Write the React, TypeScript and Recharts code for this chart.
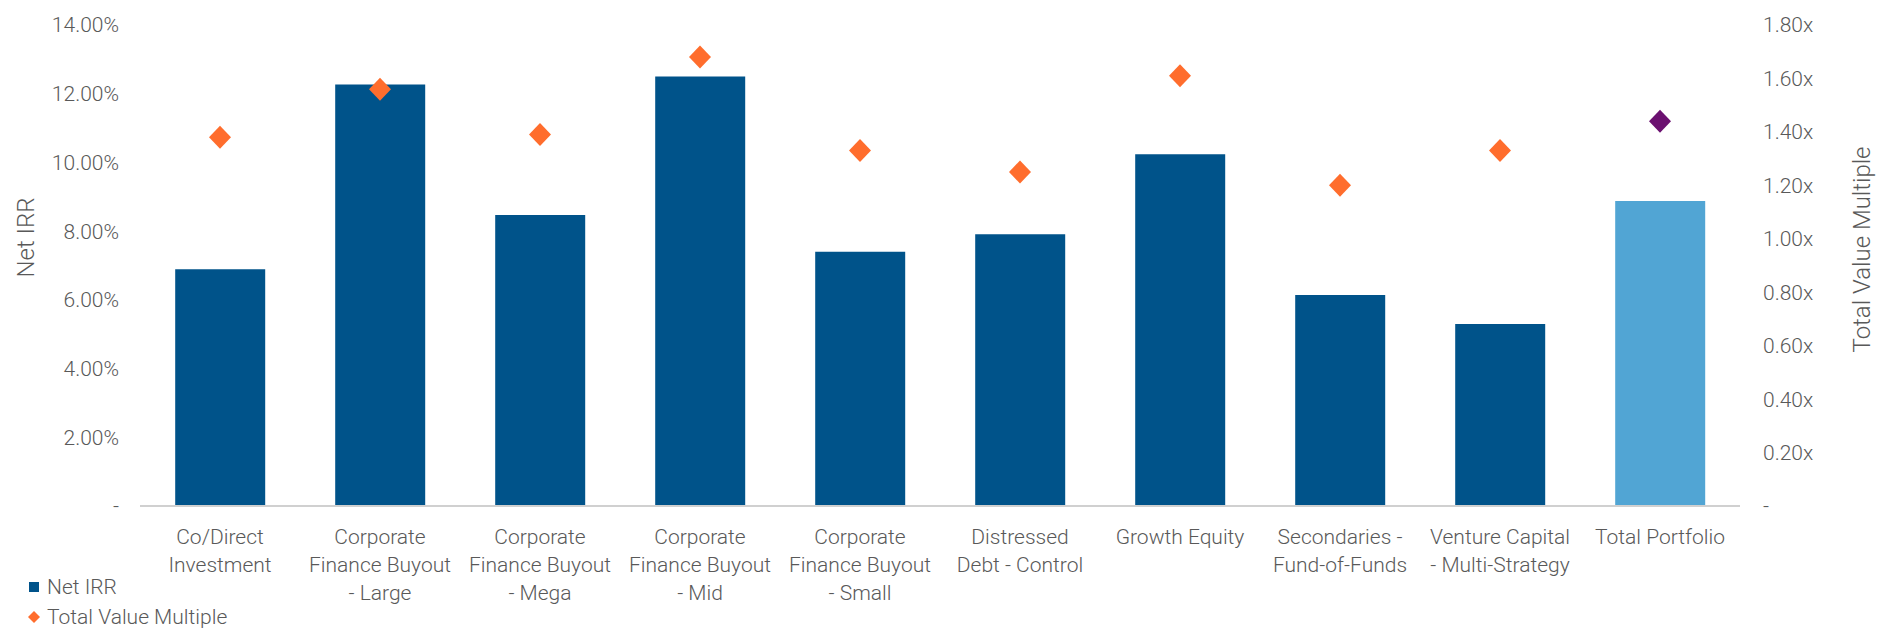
import React from 'react';
import { ComposedChart, Bar, Scatter, XAxis, YAxis, Legend, Cell } from 'recharts';

const categories = [
  'Co/Direct Investment',
  'Corporate Finance Buyout - Large',
  'Corporate Finance Buyout - Mega',
  'Corporate Finance Buyout - Mid',
  'Corporate Finance Buyout - Small',
  'Distressed Debt - Control',
  'Growth Equity',
  'Secondaries - Fund-of-Funds',
  'Venture Capital - Multi-Strategy',
  'Total Portfolio',
];

const tickLines = [
  ['Co/Direct', 'Investment'],
  ['Corporate', 'Finance Buyout', '- Large'],
  ['Corporate', 'Finance Buyout', '- Mega'],
  ['Corporate', 'Finance Buyout', '- Mid'],
  ['Corporate', 'Finance Buyout', '- Small'],
  ['Distressed', 'Debt - Control'],
  ['Growth Equity'],
  ['Secondaries -', 'Fund-of-Funds'],
  ['Venture Capital', '- Multi-Strategy'],
  ['Total Portfolio'],
];

// Net IRR in percent
const netIrr = [6.89, 12.27, 8.47, 12.5, 7.4, 7.91, 10.24, 6.14, 5.3, 8.88];
// Total Value Multiple (x)
const tvm = [1.38, 1.56, 1.39, 1.68, 1.33, 1.25, 1.61, 1.2, 1.33, 1.44];

const irrTicks = [0, 2, 4, 6, 8, 10, 12, 14];
const tvmTicks = [0, 0.2, 0.4, 0.6, 0.8, 1.0, 1.2, 1.4, 1.6, 1.8];

const TOTAL = 'Total Portfolio';
const BAR_COLOR = '#00538A';
const TOTAL_BAR_COLOR = '#51A5D4';
const MARKER_COLOR = '#FF6D2D';
const TOTAL_MARKER_COLOR = '#6B1170';
const TEXT_COLOR = '#595959';
const FONT = 'Roboto, "Noto Sans", sans-serif';

const data = categories.map((name, i) => ({
  name,
  irr: netIrr[i],
  tvm: tvm[i],
}));

const CategoryTick = ({ x, y, index }: any) => {
  const lines = tickLines[index] || [];
  return (
    <text
      x={x}
      y={y}
      textAnchor="middle"
      fill={TEXT_COLOR}
      fontSize={21}
      fontWeight={300}
      fontFamily={FONT}
    >
      {lines.map((line, i) => (
        <tspan key={i} x={x} dy={i === 0 ? 38 : 28}>
          {line}
        </tspan>
      ))}
    </text>
  );
};

// rotated axis title, placed from the axis viewBox
const AxisTitle = ({ viewBox, value, side }: any) => {
  if (!viewBox) return null;
  const x = side === 'left' ? viewBox.x + 26 : viewBox.x + viewBox.width - 17;
  const y = viewBox.y + viewBox.height / 2 + (side === 'left' ? -28 : -16);
  return (
    <text
      x={x}
      y={y}
      transform={`rotate(-90, ${x}, ${y})`}
      textAnchor="middle"
      dominantBaseline="central"
      fill={TEXT_COLOR}
      fontSize={24}
      fontWeight={300}
      fontFamily={FONT}
    >
      {value}
    </text>
  );
};

const Diamond = ({ cx, cy, fill }: any) => {
  if (cx == null || cy == null) return null;
  const w = 11;
  const h = 11.5;
  return (
    <polygon
      points={`${cx},${cy - h} ${cx + w},${cy} ${cx},${cy + h} ${cx - w},${cy}`}
      fill={fill}
    />
  );
};

const LegendContent = () => (
  <div style={{ fontFamily: FONT, fontSize: 21, fontWeight: 300, color: TEXT_COLOR }}>
    <div style={{ display: 'flex', alignItems: 'center', height: 30 }}>
      <svg width={12} height={12} style={{ marginRight: 7 }}>
        <rect x={1} y={1} width={10} height={10} fill={BAR_COLOR} />
      </svg>
      <span>Net IRR</span>
    </div>
    <div style={{ display: 'flex', alignItems: 'center', height: 30 }}>
      <svg width={12} height={12} style={{ marginRight: 7 }}>
        <polygon points="6,0 12,6 6,12 0,6" fill={MARKER_COLOR} />
      </svg>
      <span>Total Value Multiple</span>
    </div>
  </div>
);

const fmtIrr = (v: number) => (v === 0 ? '-' : `${v.toFixed(2)}%`);
const fmtTvm = (v: number) => (v === 0 ? '-' : `${v.toFixed(2)}x`);

const App: React.FC = () => {
  return (
    <div style={{ position: 'absolute', left: 0, top: 0, width: 1879, height: 631, background: '#fff' }}>
      <ComposedChart
        width={1879}
        height={631}
        data={data}
        margin={{ top: 25, right: 0, bottom: 0, left: 0 }}
        barCategoryGap="22%"
      >
        <XAxis
          dataKey="name"
          interval={0}
          height={66}
          tickLine={false}
          tickSize={0}
          tickMargin={0}
          axisLine={{ stroke: '#D0D0D0', strokeWidth: 2 }}
          tick={<CategoryTick />}
        />
        <YAxis
          yAxisId="left"
          orientation="left"
          width={140}
          domain={[0, 14]}
          ticks={irrTicks}
          tickFormatter={fmtIrr}
          axisLine={false}
          tickLine={false}
          tickSize={0}
          tickMargin={21}
          tick={{ fill: TEXT_COLOR, fontSize: 21, fontWeight: 300, fontFamily: FONT }}
          label={<AxisTitle value="Net IRR" side="left" />}
        />
        <YAxis
          yAxisId="right"
          orientation="right"
          width={139}
          domain={[0, 1.8]}
          ticks={tvmTicks}
          tickFormatter={fmtTvm}
          axisLine={false}
          tickLine={false}
          tickSize={0}
          tickMargin={23}
          tick={{ fill: TEXT_COLOR, fontSize: 21, fontWeight: 300, fontFamily: FONT, textAnchor: 'start' }}
          label={<AxisTitle value="Total Value Multiple" side="right" />}
        />
        <Legend
          verticalAlign="bottom"
          align="left"
          layout="horizontal"
          height={59}
          wrapperStyle={{ left: 28, bottom: 0, width: 400, height: 59 }}
          content={<LegendContent />}
        />
        <Bar yAxisId="left" dataKey="irr" name="Net IRR" isAnimationActive={false}>
          {data.map((d, i) => (
            <Cell key={i} fill={d.name === TOTAL ? TOTAL_BAR_COLOR : BAR_COLOR} />
          ))}
        </Bar>
        <Scatter
          yAxisId="right"
          dataKey="tvm"
          name="Total Value Multiple"
          shape={<Diamond />}
          isAnimationActive={false}
        >
          {data.map((d, i) => (
            <Cell key={i} fill={d.name === TOTAL ? TOTAL_MARKER_COLOR : MARKER_COLOR} />
          ))}
        </Scatter>
      </ComposedChart>
    </div>
  );
};

export default App;
